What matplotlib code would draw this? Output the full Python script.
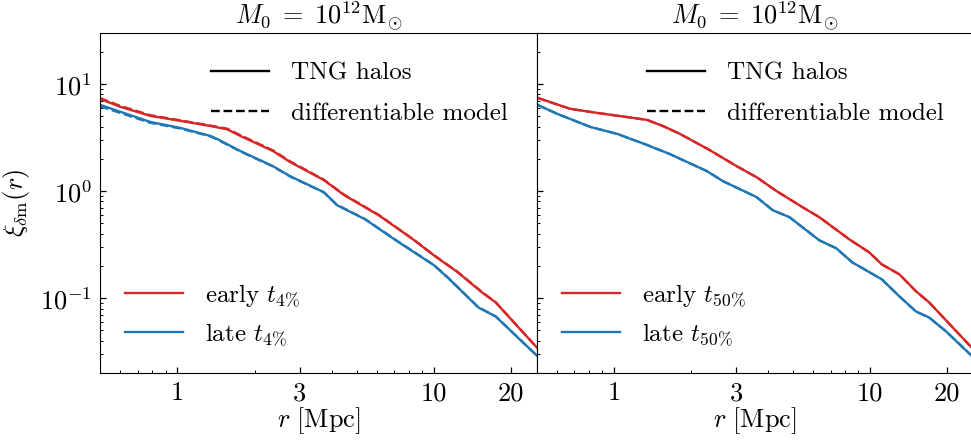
import numpy as np
import matplotlib
matplotlib.use("Agg")
import matplotlib.pyplot as plt
from matplotlib.lines import Line2D

# ── DATA ─────────────────────────────────────────────────────────────────────
# left panel: split by t_4%
r_left = [0.50, 0.60, 0.785, 1.03, 1.345, 1.565, 1.76, 2.36, 2.75, 3.72,
          4.47, 6.09, 8.28, 10.0, 12.4, 15.4, 17.4, 25.2]
early4_tng = [7.28, 6.13, 5.05, 4.53, 4.06, 3.78, 3.28, 2.37, 1.87, 1.27,
              0.917, 0.596, 0.355, 0.251, 0.174, 0.113, 0.0912, 0.0345]
early4_mod = [7.40, 6.25, 5.12, 4.58, 4.10, 3.83, 3.33, 2.40, 1.90, 1.28,
              0.925, 0.600, 0.357, 0.252, 0.175, 0.114, 0.0915, 0.0345]

r_left_b = [0.50, 0.785, 1.03, 1.345, 1.43, 1.76, 2.36, 2.75, 3.72, 4.19,
            5.38, 7.29, 10.0, 11.3, 14.9, 17.4, 25.2]
late4_tng = [6.40, 4.43, 3.89, 3.28, 3.07, 2.37, 1.71, 1.38, 0.979, 0.739,
             0.547, 0.333, 0.203, 0.156, 0.0818, 0.0674, 0.029]
late4_mod = [6.20, 4.35, 3.84, 3.25, 3.04, 2.35, 1.70, 1.37, 0.975, 0.745,
             0.550, 0.335, 0.204, 0.157, 0.0822, 0.0676, 0.029]

# right panel: split by t_50%
r_right_r = [0.502, 0.674, 0.859, 1.344, 1.55, 1.81, 2.36, 3.01, 3.60, 4.31,
             5.44, 6.33, 8.28, 9.91, 11.1, 13.0, 15.1, 17.0, 25.2]
early50_tng = [7.44, 5.87, 5.38, 4.63, 4.06, 3.42, 2.42, 1.71, 1.35, 1.00,
               0.708, 0.571, 0.355, 0.268, 0.207, 0.167, 0.116, 0.0912, 0.0335]
early50_mod = early50_tng

r_right_b = [0.502, 0.600, 0.807, 1.03, 1.344, 1.65, 2.30, 2.66, 3.60, 4.16,
             4.84, 6.33, 7.38, 8.51, 11.1, 13.0, 15.1, 17.0, 19.8, 25.2]
late50_tng = [6.40, 5.27, 3.98, 3.42, 2.70, 2.22, 1.54, 1.24, 0.879, 0.664,
              0.571, 0.347, 0.292, 0.216, 0.150, 0.104, 0.0750, 0.0659,
              0.0488, 0.0282]
late50_mod = late50_tng

xticks = [1, 3, 10, 20]
xticklabels = ["1", "3", "10", "20"]

# ── STYLE ────────────────────────────────────────────────────────────────────
plt.rcParams["font.family"] = "serif"
plt.rcParams["font.serif"] = ["cmr10", "DejaVu Serif"]
plt.rcParams["mathtext.fontset"] = "cm"
plt.rcParams["axes.unicode_minus"] = False
plt.rcParams["axes.formatter.use_mathtext"] = True

c_red = "#d62728"
c_blue = "#1f77b4"
FS = 18       # legend
FS_TICK = 19
FS_LAB = 19
FS_TITLE = 19
LW = 1.7

fig = plt.figure(figsize=(9.71, 4.45), dpi=100)
ax1 = fig.add_axes([100 / 971, 72 / 445, 437 / 971, 340 / 445])
ax2 = fig.add_axes([537 / 971, 72 / 445, 436 / 971, 340 / 445], sharey=ax1)

panels = [
    (ax1, r_left, early4_tng, early4_mod, r_left_b, late4_tng, late4_mod, r"4\%"),
    (ax2, r_right_r, early50_tng, early50_mod, r_right_b, late50_tng, late50_mod, r"50\%"),
]

for ax, re_, et, em, rl, lt, lm, tag in panels:
    ax.plot(re_, et, color=c_red, lw=LW)
    ax.plot(re_, em, color=c_red, lw=LW, ls="--")
    ax.plot(rl, lt, color=c_blue, lw=LW)
    ax.plot(rl, lm, color=c_blue, lw=LW, ls="--")

    ax.set_xscale("log")
    ax.set_yscale("log")
    ax.set_xlim(0.5, 25.2)
    ax.set_ylim(0.02, 30)
    ax.set_xticks(xticks, xticklabels)
    ax.tick_params(which="both", direction="in", labelsize=FS_TICK)
    ax.tick_params(which="major", length=4.5, width=0.9, pad=6)
    ax.tick_params(which="minor", length=2.5, width=0.7)
    ax.set_xlabel(r"$r\ [\mathrm{Mpc}]$", fontsize=FS_LAB, labelpad=0)
    ax.set_title(r"$M_0\;=\;10^{12}\mathrm{M}_{\odot}$", fontsize=FS_TITLE, pad=3)

    style_handles = [Line2D([], [], color="k", lw=LW),
                     Line2D([], [], color="k", lw=LW, ls="--")]
    leg1 = ax.legend(style_handles, ["TNG halos", "differentiable model"],
                     loc="upper right", frameon=False, fontsize=FS,
                     handlelength=2.3, handletextpad=0.9, labelspacing=0.72,
                     borderaxespad=0.75)
    ax.add_artist(leg1)
    split_handles = [Line2D([], [], color=c_red, lw=LW),
                     Line2D([], [], color=c_blue, lw=LW)]
    ax.legend(split_handles, [rf"early $t_{{{tag}}}$", rf"late $t_{{{tag}}}$"],
              loc="lower left", frameon=False, fontsize=FS,
              handlelength=2.3, handletextpad=0.9, labelspacing=0.52,
              borderaxespad=0.6)

ax1.set_ylabel(r"$\xi_{\delta\mathrm{m}}(r)$", fontsize=FS_LAB, labelpad=6)
plt.setp(ax2.get_yticklabels(), visible=False)

fig.savefig("out.png", dpi=100)
